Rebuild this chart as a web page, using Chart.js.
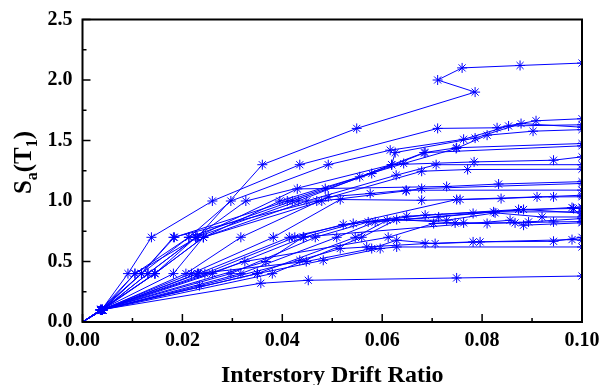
<!DOCTYPE html>
<html lang="en">
<head>
  <meta charset="UTF-8">
  <title>IDA curves</title>
  <style>
    body {
      margin: 0;
      background: #fff;
    }

    #chart-container {
      width: 601px;
      height: 385px;
    }
  </style>
</head>
<body>
  <div id="chart-container">
    <canvas id="idaChart"></canvas>
  </div>

  <script src="https://cdn.jsdelivr.net/npm/chart.js"></script>
  <script>
    // axis ticks
    const xTicks = [0, 0.02, 0.04, 0.06, 0.08, 0.10];
    const yTicks = [0, 0.5, 1.0, 1.5, 2.0, 2.5];

    // interstory drift ratio, one list per record
    const drift = [
      [0, 0.0040, 0.0105, 0.0230, 0.0360, 0.0549, 0.0786, 0.0711, 0.0760, 0.0876, 0.1000],
      [0, 0.0038, 0.0091, 0.0138, 0.0260, 0.0435, 0.0711, 0.0830, 0.0908, 0.1000],
      [0, 0.0036, 0.0118, 0.0213, 0.0297, 0.0492, 0.0616, 0.0763, 0.0853, 0.1000],
      [0, 0.0040, 0.0131, 0.0227, 0.0327, 0.0619, 0.0626, 0.0786, 0.0878, 0.1000],
      [0, 0.0037, 0.0145, 0.0242, 0.0395, 0.0643, 0.0748, 0.0810, 0.0902, 0.1000],
      [0, 0.0040, 0.0118, 0.0184, 0.0410, 0.0555, 0.0684, 0.0749, 0.1000],
      [0, 0.0036, 0.0105, 0.0213, 0.0420, 0.0579, 0.0686, 0.1000],
      [0, 0.0040, 0.0131, 0.0227, 0.0432, 0.0619, 0.0784, 0.0943, 0.1000],
      [0, 0.0038, 0.0145, 0.0242, 0.0449, 0.0628, 0.0708, 0.1000],
      [0, 0.0038, 0.0118, 0.0182, 0.0469, 0.0679, 0.0771, 0.1000],
      [0, 0.0040, 0.0145, 0.0227, 0.0430, 0.0486, 0.0729, 0.0833, 0.1000],
      [0, 0.0036, 0.0182, 0.0242, 0.0479, 0.0648, 0.0679, 0.1000],
      [0, 0.0040, 0.0207, 0.0317, 0.0492, 0.0576, 0.0648, 0.1000],
      [0, 0.0037, 0.0218, 0.0382, 0.0516, 0.0679, 0.0756, 0.0838, 0.1000],
      [0, 0.0040, 0.0232, 0.0414, 0.0749, 0.0910, 0.0943, 0.1000],
      [0, 0.0038, 0.0245, 0.0425, 0.0522, 0.0686, 0.0980, 0.1000],
      [0, 0.0040, 0.0260, 0.0443, 0.0542, 0.0649, 0.0873, 0.0983, 0.1000],
      [0, 0.0036, 0.0297, 0.0466, 0.0572, 0.0713, 0.0823, 0.1000],
      [0, 0.0040, 0.0317, 0.0509, 0.0586, 0.0782, 0.0883, 0.1000],
      [0, 0.0038, 0.0350, 0.0546, 0.0610, 0.0729, 0.0826, 0.0920, 0.1000],
      [0, 0.0040, 0.0380, 0.0559, 0.0629, 0.0746, 0.0810, 0.0893, 0.1000],
      [0, 0.0037, 0.0325, 0.0612, 0.0703, 0.0763, 0.0866, 0.0943, 0.1000],
      [0, 0.0036, 0.0367, 0.0442, 0.0856, 0.0883, 0.1000],
      [0, 0.0040, 0.0234, 0.0435, 0.0516, 0.0569, 0.0686, 0.0782, 0.0943, 0.1000],
      [0, 0.0038, 0.0230, 0.0448, 0.0579, 0.0629, 0.0706, 0.0796, 0.0980, 0.1000],
      [0, 0.0037, 0.0350, 0.0482, 0.0596, 0.0629, 0.1000],
      [0, 0.0036, 0.0357, 0.0452, 0.0749, 0.1000]
    ];

    // spectral acceleration Sa(T1), same order
    const sa = [
      [0, 0.1, 0.4, 0.7, 1.3, 1.6, 1.9, 2.0, 2.1, 2.12, 2.14],
      [0, 0.1, 0.4, 0.7, 1.0, 1.3, 1.6, 1.605, 1.663, 1.68],
      [0, 0.1, 0.4, 0.7, 1.0, 1.3, 1.42, 1.51, 1.62, 1.63],
      [0, 0.1, 0.4, 0.7, 1.0, 1.3, 1.40, 1.52, 1.64, 1.61],
      [0, 0.1, 0.4, 0.7, 1.0, 1.31, 1.434, 1.544, 1.577, 1.59],
      [0, 0.1, 0.4, 0.7, 1.0, 1.2, 1.40, 1.44, 1.475],
      [0, 0.1, 0.4, 0.7, 1.0, 1.227, 1.40, 1.456],
      [0, 0.1, 0.4, 0.7, 1.0, 1.30, 1.323, 1.337, 1.365],
      [0, 0.1, 0.4, 0.7, 1.0, 1.213, 1.30, 1.30],
      [0, 0.1, 0.4, 0.7, 1.0, 1.246, 1.26, 1.263],
      [0, 0.1, 0.4, 0.7, 1.1, 1.103, 1.12, 1.14, 1.16],
      [0, 0.1, 0.4, 0.7, 1.0, 1.084, 1.103, 1.145],
      [0, 0.1, 0.4, 0.7, 1.034, 1.062, 1.089, 1.09],
      [0, 0.1, 0.4, 0.7, 1.012, 1.006, 1.012, 1.02, 1.048],
      [0, 0.1, 0.4, 0.7, 1.012, 1.034, 1.034, 1.035],
      [0, 0.1, 0.4, 0.7, 0.806, 0.883, 0.946, 0.95],
      [0, 0.1, 0.4, 0.7, 0.814, 0.874, 0.93, 0.938, 0.94],
      [0, 0.1, 0.4, 0.7, 0.827, 0.868, 0.91, 0.91],
      [0, 0.1, 0.4, 0.7, 0.827, 0.897, 0.93, 0.90],
      [0, 0.1, 0.4, 0.7, 0.841, 0.841, 0.902, 0.868, 0.868],
      [0, 0.1, 0.4, 0.7, 0.847, 0.819, 0.814, 0.827, 0.855],
      [0, 0.1, 0.5, 0.7, 0.814, 0.819, 0.819, 0.827, 0.83],
      [0, 0.1, 0.5, 0.703, 0.841, 0.80, 0.82],
      [0, 0.1, 0.3, 0.51, 0.607, 0.62, 0.648, 0.662, 0.667, 0.70],
      [0, 0.1, 0.4, 0.5, 0.607, 0.676, 0.648, 0.662, 0.681, 0.676],
      [0, 0.1, 0.4, 0.51, 0.607, 0.62, 0.62],
      [0, 0.1, 0.32, 0.345, 0.364, 0.38]
    ];

    const serif = "'Liberation Serif', 'Times New Roman', serif";
    const blue = '#0000ff';

    const datasets = drift.map((xs, i) => ({
      label: 'GM ' + (i + 1),
      data: xs.map((x, j) => ({ x: x, y: sa[i][j] })),
      showLine: true,
      borderColor: blue,
      backgroundColor: blue,
      borderWidth: 1,
      pointStyle: 'star',
      pointRadius: ctx => ctx.dataIndex === 0 ? 0 : 5,
      pointBorderColor: blue,
      pointBorderWidth: 1,
      tension: 0,
      clip: 0
    }));

    // frame, inward ticks and axis titles
    const framePlugin = {
      id: 'frame',
      afterDraw(chart) {
        const { ctx, chartArea: a, scales } = chart;
        const xs = scales.x, ys = scales.y;
        ctx.save();
        ctx.strokeStyle = '#000';
        ctx.lineWidth = 1.5;
        ctx.beginPath();
        for (let v = 0; v <= 0.1001; v += 0.01) {
          const px = xs.getPixelForValue(v);
          const major = Math.round(v * 100) % 2 === 0;
          ctx.moveTo(px, a.bottom);
          ctx.lineTo(px, a.bottom - (major ? 8 : 4));
        }
        for (let v = 0; v <= 2.5001; v += 0.25) {
          const py = ys.getPixelForValue(v);
          const major = Math.round(v * 4) % 2 === 0;
          ctx.moveTo(a.left, py);
          ctx.lineTo(a.left + (major ? 8 : 4), py);
        }
        ctx.stroke();
        ctx.lineWidth = 2;
        ctx.strokeRect(a.left, a.top, a.right - a.left, a.bottom - a.top);

        ctx.fillStyle = '#000';
        ctx.textBaseline = 'alphabetic';
        ctx.textAlign = 'center';
        ctx.font = 'bold 24px ' + serif;
        ctx.fillText('Interstory Drift Ratio', (a.left + a.right) / 2, 381.5);

        // Sa(T1) with subscripts, rotated
        const parts = [
          { t: 'S', size: 25, dy: 0 },
          { t: 'a', size: 16, dy: 6 },
          { t: '(T', size: 25, dy: 0 },
          { t: '1', size: 16, dy: 6 },
          { t: ')', size: 25, dy: 0 }
        ];
        ctx.textAlign = 'left';
        let total = 0;
        parts.forEach(p => {
          ctx.font = 'bold ' + p.size + 'px ' + serif;
          p.w = ctx.measureText(p.t).width;
          total += p.w;
        });
        ctx.translate(31, 162.5);
        ctx.rotate(-Math.PI / 2);
        let cx = -total / 2;
        parts.forEach(p => {
          ctx.font = 'bold ' + p.size + 'px ' + serif;
          ctx.fillText(p.t, cx, p.dy);
          cx += p.w;
        });
        ctx.restore();
      }
    };

    new Chart(document.getElementById('idaChart'), {
      type: 'scatter',
      data: { datasets: datasets },
      options: {
        responsive: true,
        maintainAspectRatio: false,
        animation: false,
        layout: { padding: { left: 0, right: 19, top: 19.5, bottom: 0 } },
        plugins: {
          legend: { display: false },
          tooltip: { enabled: false }
        },
        scales: {
          x: {
            type: 'linear',
            min: 0,
            max: 0.1,
            afterBuildTicks: scale => {
              scale.ticks = xTicks.map(v => ({ value: v }));
            },
            afterFit: scale => {
              scale.height = 63;
              scale.paddingLeft = 0;
              scale.paddingRight = 0;
            },
            ticks: {
              padding: 7,
              maxRotation: 0,
              autoSkip: false,
              color: '#000',
              font: { family: serif, size: 20, weight: 'bold' },
              callback: v => v.toFixed(2)
            },
            grid: { display: false, drawTicks: false },
            border: { display: false }
          },
          y: {
            min: 0,
            max: 2.5,
            afterBuildTicks: scale => {
              scale.ticks = yTicks.map(v => ({ value: v }));
            },
            afterFit: scale => {
              scale.width = 82.5;
              scale.paddingTop = 0;
              scale.paddingBottom = 0;
            },
            ticks: {
              padding: 10,
              autoSkip: false,
              color: '#000',
              font: { family: serif, size: 20, weight: 'bold' },
              callback: v => v.toFixed(1)
            },
            grid: { display: false, drawTicks: false },
            border: { display: false }
          }
        }
      },
      plugins: [framePlugin]
    });
  </script>
</body>
</html>
